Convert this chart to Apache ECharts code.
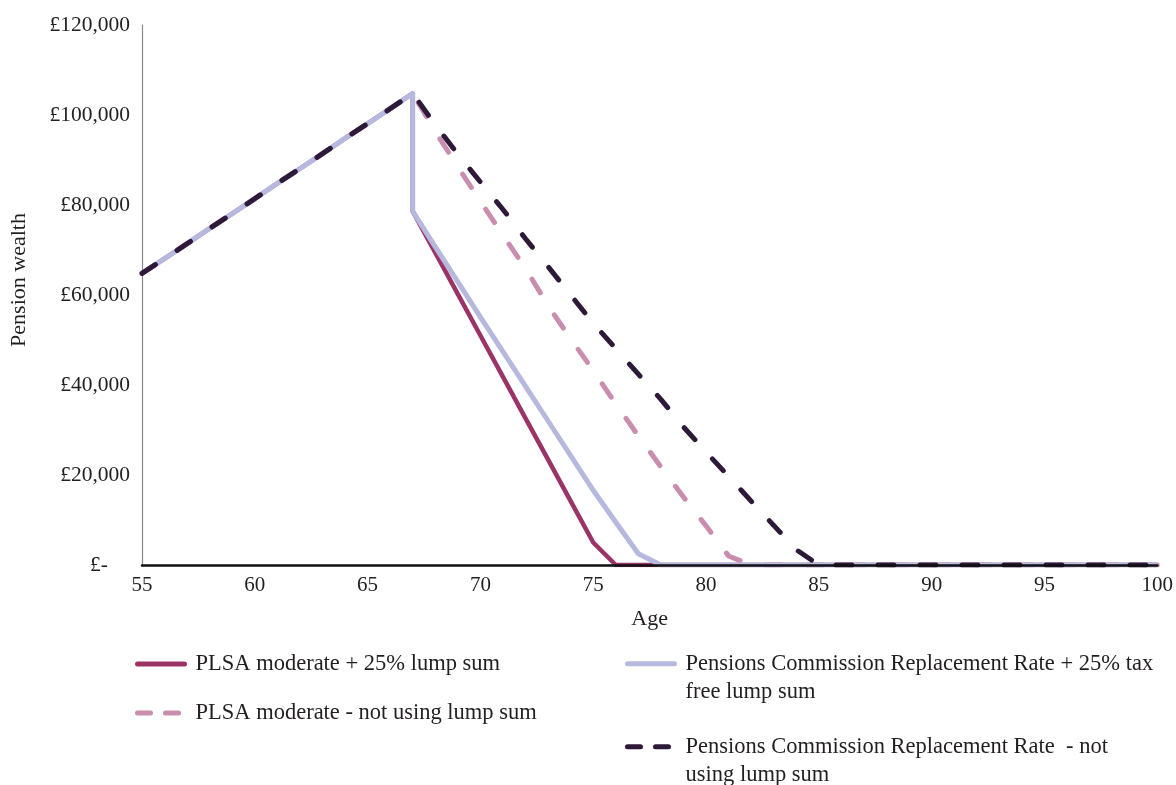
<!DOCTYPE html>
<html>
<head>
<meta charset="utf-8">
<script src="https://cdn.jsdelivr.net/npm/echarts@6/dist/echarts.min.js"></script>
<style>
html,body{margin:0;padding:0;background:#fff;}
#chart{width:1176px;height:785px;}
</style>
</head>
<body>
<div id="chart"></div>
<script>
// Age values (67 appears twice: before and after the lump sum is taken)
var ages = [55,56,57,58,59,60,61,62,63,64,65,66,67,67,68,69,70,71,72,73,74,75,76,77,78,79,80,81,82,83,84,85,86,87,88,89,90,91,92,93,94,95,96,97,98,99,100];

var plsaLump = [64800,68100,71400,74800,78100,81400,84800,88100,91400,94800,98100,101400,104800,78600,69400,60200,51000,41800,32600,23400,14200,5000,0,0,0,0,0,0,0,0,0,0,0,0,0,0,0,0,0,0,0,0,0,0,0,0,0];
var plsaNoLump = [64800,68100,71400,74800,78100,81400,84800,88100,91400,94800,98100,101400,104800,104800,96300,88500,80800,73300,65900,57600,50300,43200,35800,28700,21800,15100,8700,2000,0,0,0,0,0,0,0,0,0,0,0,0,0,0,0,0,0,0,0];
var pcLump = [64800,68100,71400,74800,78100,81400,84800,88100,91400,94800,98100,101400,104800,78600,70700,62900,55100,47400,39700,32000,24300,16600,9500,2500,0,0,0,0,0,0,0,0,0,0,0,0,0,0,0,0,0,0,0,0,0,0,0];
var pcNoLump = [64800,68100,71400,74800,78100,81400,84800,88100,91400,94800,98100,101400,104800,104800,97800,91300,85100,79000,72500,66300,60000,53700,48100,42400,36800,30700,25100,19700,14200,8800,3400,0,0,0,0,0,0,0,0,0,0,0,0,0,0,0,0];

var seriesNames = [
  'PLSA moderate + 25% lump sum',
  'PLSA moderate - not using lump sum',
  'Pensions Commission Replacement Rate + 25% tax\nfree lump sum',
  'Pensions Commission Replacement Rate  - not\nusing lump sum'
];
var yTicks = [0,20000,40000,60000,80000,100000,120000];

function pairs(vals){ return ages.map(function(a,i){ return [a, vals[i]]; }); }

var FONT = '"Liberation Serif", "DejaVu Serif", serif';
var TXT = '#231F20';
var colors = ['#9B3366','#C98DAE','#B6B8DD','#2E1A38'];

function fmt(v){
  if (v === 0) return '{z|£-}';
  return '£' + String(v).replace(/\B(?=(\d{3})+(?!\d))/g, ',');
}

function legendFor(i, left, top, twoLine, dashed){
  var lg = {
    data: [seriesNames[i]],
    left: left, top: top, padding: 0,
    itemWidth: 47, itemHeight: 14,
    selectedMode: false,
    itemStyle: { opacity: 0 },
    textStyle: {
      fontFamily: FONT, fontSize: 22.5, color: TXT,
      lineHeight: twoLine ? 28.5 : 24,
      padding: [0,0,0,6]
    },
    lineStyle: { width: 5, cap: 'round', type: dashed ? [13,15] : 'solid', opacity: 1 }
  };
  if (twoLine) {
    lg.formatter = function(name){ return '\n' + name; };
  }
  return lg;
}

var chart = echarts.init(document.getElementById('chart'), null, {renderer:'canvas'});
chart.setOption({
  animation: false,
  backgroundColor: '#fff',
  grid: { left: 139, right: 18, top: 25, bottom: 220, containLabel: false },
  xAxis: {
    type: 'value', min: 55, max: 100, interval: 5, z: 3,
    name: 'Age', nameLocation: 'middle', nameGap: 43,
    nameTextStyle: { fontFamily: FONT, fontSize: 22, color: TXT },
    axisLine: { show: true, onZero: false, lineStyle: { color: '#111', width: 2.5 } },
    axisTick: { show: false },
    splitLine: { show: false },
    axisLabel: { margin: 10, fontFamily: FONT, fontSize: 21, color: TXT }
  },
  yAxis: {
    type: 'value', min: 0, max: 120000, interval: 20000,
    name: 'Pension wealth', nameLocation: 'middle', nameGap: 112,
    nameTextStyle: { fontFamily: FONT, fontSize: 22, color: TXT, padding: [0,0,0,30] },
    axisLine: { show: true, lineStyle: { color: '#888', width: 1.2 } },
    axisTick: { show: false },
    splitLine: { show: false },
    axisLabel: {
      margin: 12, fontFamily: FONT, fontSize: 21.5, color: TXT,
      formatter: fmt,
      rich: { z: { fontFamily: FONT, fontSize: 21.5, color: TXT, padding: [0,22,0,0] } }
    }
  },
  legend: [
    legendFor(0, 135, 652, false, false),
    legendFor(1, 135, 701, false, true),
    legendFor(2, 625, 621, true, false),
    legendFor(3, 625, 704, true, true)
  ],
  series: [
    { name: seriesNames[0], type: 'line', data: pairs(plsaLump), symbol: 'none', z: 2,
      lineStyle: { color: colors[0], width: 4.5, join: 'round' }, itemStyle: { color: colors[0] } },
    { name: seriesNames[1], type: 'line', data: pairs(plsaNoLump), symbol: 'none', z: 2,
      lineStyle: { color: colors[1], width: 5, type: [16,26], cap: 'round', join: 'round' }, itemStyle: { color: colors[1] } },
    { name: seriesNames[2], type: 'line', data: pairs(pcLump), symbol: 'none', z: 2,
      lineStyle: { color: colors[2], width: 5, join: 'round' }, itemStyle: { color: colors[2] } },
    { name: seriesNames[3], type: 'line', data: pairs(pcNoLump), symbol: 'none', z: 2,
      lineStyle: { color: colors[3], width: 5, type: [16,26], cap: 'round', join: 'round' }, itemStyle: { color: colors[3] } }
  ]
});
</script>
</body>
</html>
